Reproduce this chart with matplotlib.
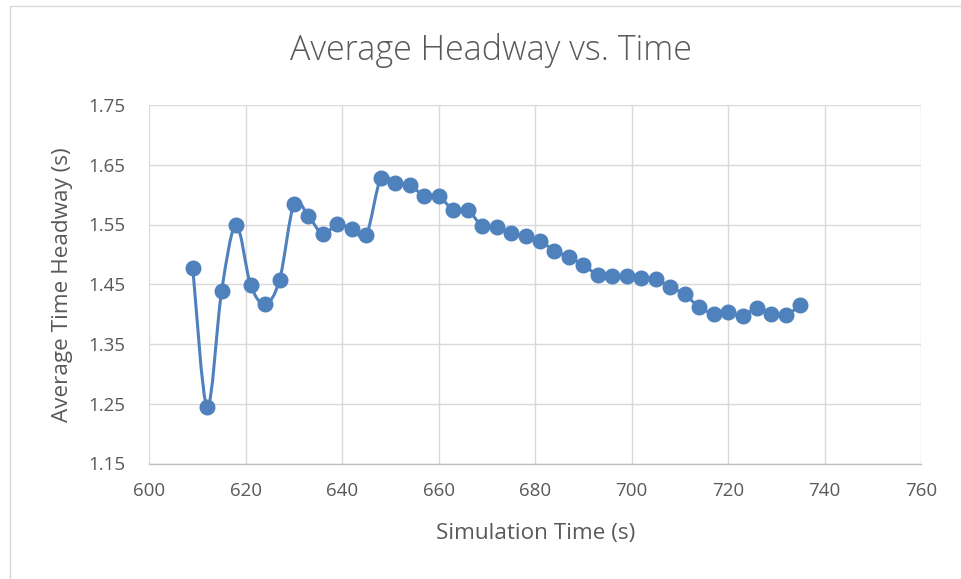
import matplotlib
matplotlib.use("Agg")
import matplotlib.pyplot as plt
from matplotlib.path import Path
from matplotlib.patches import PathPatch, Rectangle
import numpy as np

# Simulation time (s) and average time headway (s)
sim_time = [609, 612, 615, 618, 621, 624, 627, 630, 633, 636, 639, 642, 645,
            648, 651, 654, 657, 660, 663, 666, 669, 672, 675, 678, 681, 684,
            687, 690, 693, 696, 699, 702, 705, 708, 711, 714, 717, 720, 723,
            726, 729, 732, 735]
avg_headway = [1.478, 1.244, 1.439, 1.549, 1.449, 1.417, 1.457, 1.584, 1.564,
               1.534, 1.551, 1.542, 1.533, 1.627, 1.619, 1.616, 1.598, 1.597,
               1.575, 1.574, 1.548, 1.545, 1.535, 1.530, 1.523, 1.506, 1.496,
               1.482, 1.466, 1.463, 1.464, 1.461, 1.458, 1.446, 1.433, 1.412,
               1.401, 1.403, 1.397, 1.411, 1.401, 1.398, 1.416]

x_ticks = [600, 620, 640, 660, 680, 700, 720, 740, 760]
y_ticks = [1.15, 1.25, 1.35, 1.45, 1.55, 1.65, 1.75]

title = "Average Headway vs. Time"
x_label = "Simulation Time (s)"
y_label = "Average Time Headway (s)"

BLUE = "#4F81BD"
TEXT = "#595959"
GRID = "#D9D9D9"
FONT = "Open Sans"

plt.rcParams["font.family"] = [FONT, "DejaVu Sans"]

W, H = 961, 579
fig = plt.figure(figsize=(W / 100, H / 100), dpi=100)

# chart-area border (only top and left edges fall inside the canvas)
fig.patches.append(Rectangle((10 / W, -0.1), 1.2, 1 - 6 / H + 0.1,
                             transform=fig.transFigure, fill=False,
                             edgecolor="#D9D9D9", linewidth=1.0))

left, right, top, bottom = 149.3, 921.0, 105.0, 463.5
ax = fig.add_axes([left / W, 1 - bottom / H, (right - left) / W, (bottom - top) / H])

ax.set_xlim(x_ticks[0], x_ticks[-1])
ax.set_ylim(y_ticks[0], y_ticks[-1])
ax.set_xticks(x_ticks)
ax.set_yticks(y_ticks)
ax.set_yticklabels([f"{v:.2f}" for v in y_ticks])
ax.grid(True, color=GRID, linewidth=1.0)
ax.set_axisbelow(True)
for side in ("top", "right", "left"):
    ax.spines[side].set_visible(False)
ax.spines["bottom"].set_color("#BFBFBF")
ax.spines["bottom"].set_linewidth(1.0)
ax.tick_params(length=0, labelsize=13.5, labelcolor=TEXT)
ax.tick_params(axis="x", pad=13)
ax.tick_params(axis="y", pad=17)

# smoothed connecting line (cubic Bezier segments through every point)
x = np.asarray(sim_time, float)
y = np.asarray(avg_headway, float)
n = len(x)
verts = [(x[0], y[0])]
codes = [Path.MOVETO]
for i in range(n - 1):
    p0 = np.array([x[max(i - 1, 0)], y[max(i - 1, 0)]])
    p1 = np.array([x[i], y[i]])
    p2 = np.array([x[i + 1], y[i + 1]])
    p3 = np.array([x[min(i + 2, n - 1)], y[min(i + 2, n - 1)]])
    c1 = p1 + (p2 - p0) / 6.0
    c2 = p2 - (p3 - p1) / 6.0
    verts += [tuple(c1), tuple(c2), tuple(p2)]
    codes += [Path.CURVE4] * 3
ax.add_patch(PathPatch(Path(verts, codes), facecolor="none", edgecolor=BLUE,
                       linewidth=2.2, capstyle="round", joinstyle="round", zorder=3))
ax.plot(sim_time, avg_headway, linestyle="none", marker="o", markersize=10.5,
        color=BLUE, zorder=4)

fig.text((left + right) / 2 / W, 1 - 533 / H, x_label, ha="center", va="center",
         fontsize=16.2, color=TEXT)
fig.text(63 / W, 1 - (top + bottom) / 2 / H, y_label, ha="center", va="center",
         rotation=90, fontsize=16.2, color=TEXT)
fig.text(491 / W, 1 - 50 / H, title, ha="center", va="center",
         fontsize=24.5, color=TEXT, fontweight="light")

fig.savefig("out.png", dpi=100)
